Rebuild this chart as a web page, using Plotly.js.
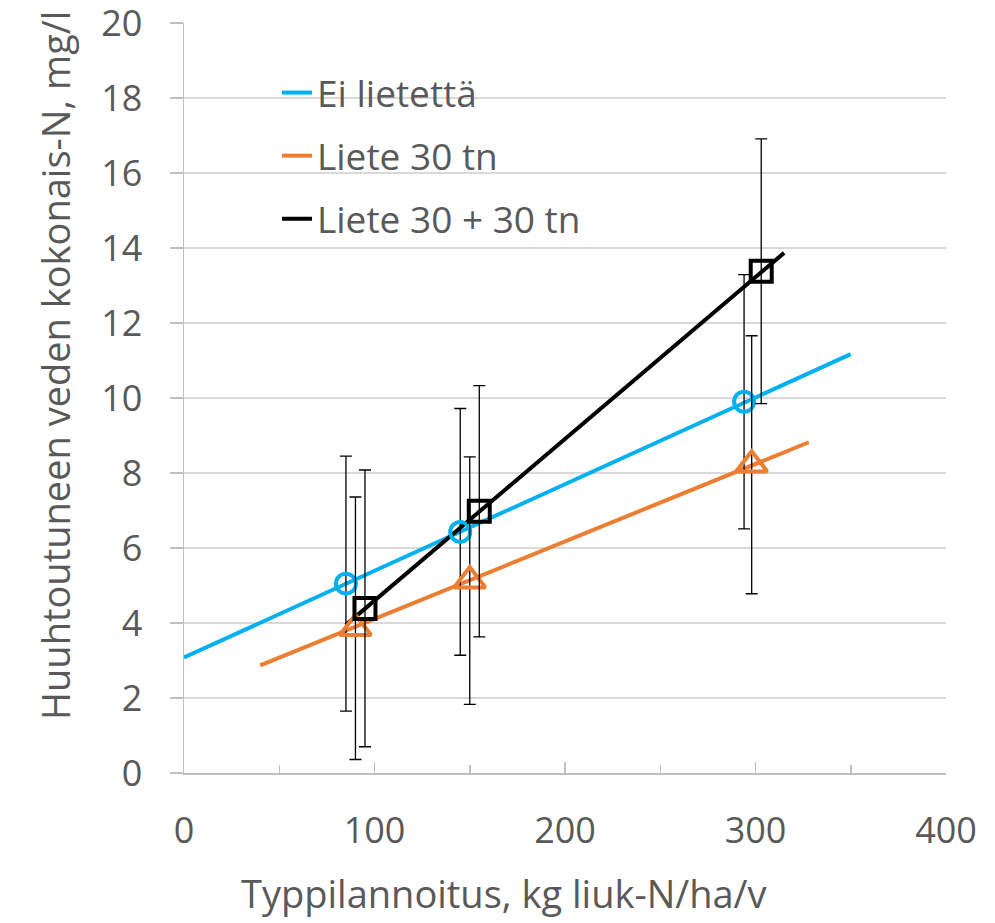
<!DOCTYPE html>
<html>
<head>
<meta charset="utf-8">
<script src="https://cdn.plot.ly/plotly-3.0.1.min.js"></script>
<style>html,body{margin:0;padding:0;background:#fff;}#chart{width:995px;height:923px;}</style>
</head>
<body>
<div id="chart"></div>
<script>
// Series names
const seriesNames = ["Ei lietettä", "Liete 30 tn", "Liete 30 + 30 tn"];

// Measured points (x = kg liuk-N/ha/v, y = mg/l) and error bar half-lengths
const xEi = [85, 145, 294];
const yEi = [5.05, 6.43, 9.90];
const errEi = [3.40, 3.29, 3.39];

const xL30 = [90, 150, 298];
const yL30 = [3.86, 5.13, 8.22];
const errL30 = [3.50, 3.30, 3.44];

const xL60 = [95, 155, 303];
const yL60 = [4.39, 6.98, 13.38];
const errL60 = [3.69, 3.35, 3.53];

// Linear trend lines (end points)
const trendXEi = [0, 350];
const trendYEi = [3.08, 11.17];
const trendXL30 = [40, 328];
const trendYL30 = [2.87, 8.82];
const trendXL60 = [85, 315];
const trendYL60 = [3.95, 13.87];

// Axis ticks and titles
const xTicks = [0, 100, 200, 300, 400];
const yTicks = [0, 2, 4, 6, 8, 10, 12, 14, 16, 18, 20];
const xTitle = "Typpilannoitus, kg liuk-N/ha/v";
const yTitle = "Huuhtoutuneen veden kokonais-N, mg/l";

const colors = ["#00b0f0", "#ed7d31", "#000000"];
const textColor = "#595959";
const fontFam = "Open Sans";

function trend(x, y, i) {
  return {
    x: x, y: y, type: "scatter", mode: "lines", name: seriesNames[i],
    line: {color: colors[i], width: 4},
    legendgroup: "g" + i, showlegend: true, hoverinfo: "skip"
  };
}
function points(x, y, err, i, symbol, size) {
  return {
    x: x, y: y, type: "scatter", mode: "markers", name: seriesNames[i],
    marker: {symbol: symbol, size: size, color: colors[i], line: {color: colors[i], width: 4}},
    error_y: {type: "data", array: err, visible: true, color: "#000000", thickness: 1.3, width: 6},
    showlegend: false
  };
}

const data = [
  trend(trendXEi, trendYEi, 0),
  trend(trendXL30, trendYL30, 1),
  trend(trendXL60, trendYL60, 2),
  points(xEi, yEi, errEi, 0, "circle-open", 20),
  points(xL30, yL30, errL30, 1, "triangle-up-open", 27),
  points(xL60, yL60, errL60, 2, "square-open", 21)
];

const layout = {
  width: 995, height: 923,
  margin: {l: 184, r: 49, t: 23, b: 150},
  paper_bgcolor: "#ffffff", plot_bgcolor: "#ffffff",
  showlegend: true,
  legend: {
    x: 0.122, y: 0.948, xanchor: "left", yanchor: "top",
    font: {family: fontFam, size: 37, color: textColor},
    bgcolor: "rgba(0,0,0,0)", tracegroupgap: 12, itemwidth: 30
  },
  xaxis: {
    range: [0, 400], tickvals: xTicks, ticktext: xTicks.map(String),
    showgrid: false, zeroline: false,
    showline: true, linecolor: "#bfbfbf", linewidth: 1.5,
    ticks: "inside", ticklen: 11, tickwidth: 1.5, tickcolor: "#bfbfbf",
    minor: {dtick: 50, ticks: "inside", ticklen: 8, tickwidth: 1.5, tickcolor: "#bfbfbf", showgrid: false},
    tickfont: {family: fontFam, size: 36, color: textColor},
    ticklabelstandoff: 25, ticklabeloverflow: "allow",
    fixedrange: true
  },
  yaxis: {
    range: [0, 20], tickvals: yTicks, ticktext: yTicks.map(String),
    showgrid: true, gridcolor: "#d9d9d9", gridwidth: 1.5, zeroline: false,
    showline: true, linecolor: "#bfbfbf", linewidth: 1.5,
    ticks: "outside", ticklen: 13, tickwidth: 1.5, tickcolor: "#bfbfbf",
    tickfont: {family: fontFam, size: 36, color: textColor},
    ticklabelstandoff: 20, ticklabeloverflow: "allow",
    fixedrange: true
  },
  annotations: [
    {text: xTitle, xref: "paper", yref: "paper", x: 0.42, y: -0.16, xanchor: "center", yanchor: "middle",
     showarrow: false, font: {family: fontFam, size: 38, color: textColor}},
    {text: yTitle, xref: "paper", yref: "paper", x: -0.1693, y: 0.544, xanchor: "center", yanchor: "middle",
     textangle: -90, showarrow: false, font: {family: fontFam, size: 38, color: textColor}}
  ]
};

Plotly.newPlot("chart", data, layout, {displayModeBar: false, staticPlot: true});
</script>
</body>
</html>
